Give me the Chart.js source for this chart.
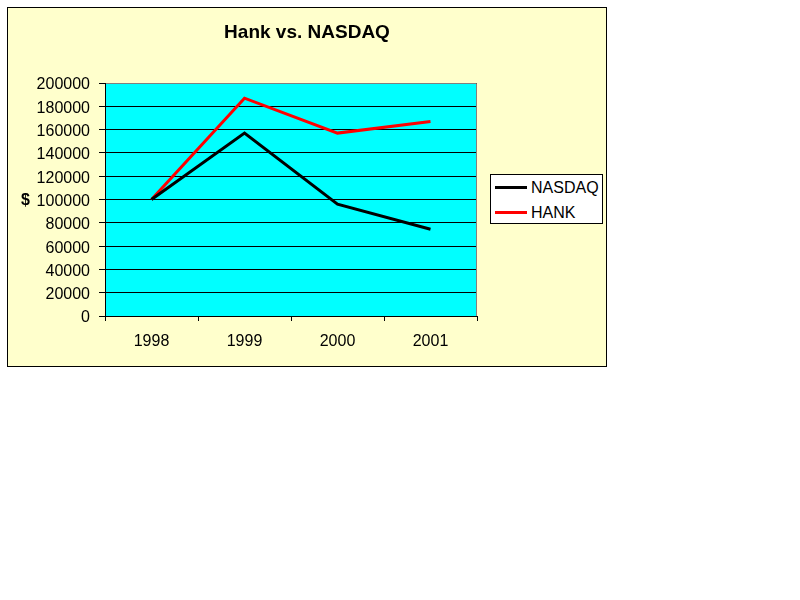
<!DOCTYPE html>
<html lang="en">
<head>
  <meta charset="UTF-8" />
  <title>Hank vs. NASDAQ</title>
  <script src="https://cdn.jsdelivr.net/npm/chart.js"></script>
  <style>
    body {
      margin: 0;
      background: #ffffff;
      font-family: 'Liberation Sans', Arial, sans-serif;
    }
    #wrap {
      position: relative;
      width: 800px;
      height: 600px;
    }
    canvas {
      position: absolute;
      left: 0;
      top: 0;
    }
    .title {
      position: absolute;
      left: 207px;
      width: 200px;
      top: 21px;
      text-align: center;
      font-weight: bold;
      font-size: 19px;
    }
    .ylabel {
      position: absolute;
      left: 21px;
      top: 191px;
      font-weight: bold;
      font-size: 16px;
    }
    .legend {
      position: absolute;
      left: 490px;
      top: 174px;
      width: 111px;
      height: 48px;
      background: #ffffff;
      border: 1px solid #000;
      font-size: 16px;
    }
    .legend div {
      position: absolute;
      left: 4px;
      height: 18px;
      line-height: 18px;
    }
    .legend span.swatch {
      display: inline-block;
      width: 32px;
      height: 3px;
      vertical-align: middle;
      margin-right: 4px;
      position: relative;
      top: -1px;
    }
  </style>
</head>
<body>
  <div id="wrap">
    <canvas id="hankChart" width="800" height="600"></canvas>
    <div class="title">Hank vs. NASDAQ</div>
    <div class="ylabel">$</div>
    <div class="legend">
      <div style="top:4px"><span class="swatch" style="background:#000"></span>NASDAQ</div>
      <div style="top:29px"><span class="swatch" style="background:#ff0000"></span>HANK</div>
    </div>
  </div>

  <script>
    const years = ['1998', '1999', '2000', '2001'];
    const nasdaq = [100000, 157000, 96000, 74500];
    const hank = [100000, 187000, 157000, 167000];

    // yellow chart box, cyan plot area, grey top/right frame
    const frame = {
      id: 'frame',
      beforeDraw(chart) {
        const ctx = chart.ctx;
        const a = chart.chartArea;
        ctx.save();
        ctx.fillStyle = '#ffffcc';
        ctx.fillRect(7, 7, 600, 360);
        ctx.strokeStyle = '#000';
        ctx.lineWidth = 1;
        ctx.strokeRect(7.5, 7.5, 599, 359);
        ctx.fillStyle = '#00ffff';
        ctx.fillRect(a.left, a.top, a.right - a.left, a.bottom - a.top);
        ctx.restore();
      },
      afterDraw(chart) {
        const ctx = chart.ctx;
        const a = chart.chartArea;
        ctx.save();
        ctx.strokeStyle = '#808080';
        ctx.lineWidth = 1;
        ctx.beginPath();
        ctx.moveTo(a.left + 1, a.top + 0.5);
        ctx.lineTo(a.right - 0.5, a.top + 0.5);
        ctx.lineTo(a.right - 0.5, a.bottom);
        ctx.stroke();
        ctx.restore();
      }
    };

    new Chart(document.getElementById('hankChart'), {
      type: 'line',
      data: {
        labels: years,
        datasets: [
          { label: 'NASDAQ', data: nasdaq, borderColor: '#000000', borderWidth: 3, pointRadius: 0, tension: 0 },
          { label: 'HANK', data: hank, borderColor: '#ff0000', borderWidth: 3, pointRadius: 0, tension: 0 }
        ]
      },
      options: {
        responsive: false,
        animation: false,
        layout: { padding: { left: 0, top: 83, right: 323, bottom: 0 } },
        plugins: {
          legend: { display: false },
          title: { display: false },
          tooltip: { enabled: false }
        },
        scales: {
          x: {
            offset: true,
            grid: { offset: true, drawOnChartArea: false, color: '#000', tickLength: 5 },
            border: { color: '#000' },
            ticks: {
              color: '#000',
              padding: 11,
              font: { family: 'Liberation Sans', size: 16 }
            },
            afterFit(scale) { scale.height = 284; }
          },
          y: {
            min: 0,
            max: 200000,
            grid: { color: '#000', tickLength: 6 },
            border: { color: '#000' },
            ticks: {
              stepSize: 20000,
              color: '#000',
              padding: 9,
              labelOffset: 2,
              font: { family: 'Liberation Sans', size: 16 },
              callback: v => String(v)
            },
            afterFit(scale) { scale.width = 105; }
          }
        }
      },
      plugins: [frame]
    });
  </script>
</body>
</html>
